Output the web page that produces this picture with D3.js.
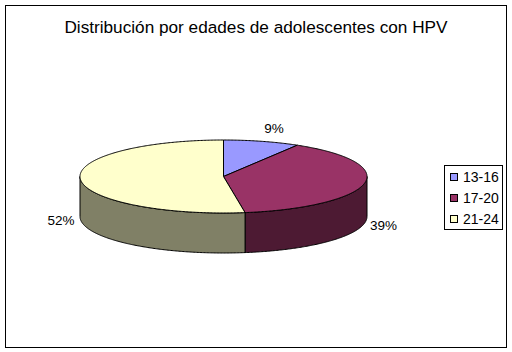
<!DOCTYPE html>
<html>
<head>
<meta charset="utf-8">
<script src="https://cdn.jsdelivr.net/npm/d3@7"></script>
<style>
    html, body { margin: 0; padding: 0; background: #fff; }
    svg { display: block; }
    text { font-family: "Liberation Sans", Arial, sans-serif; fill: #000; }
</style>
</head>
<body>
<svg id="chart" width="512" height="352"></svg>
<script>
const title = "Distribución por edades de adolescentes con HPV";
const categories = ["13-16", "17-20", "21-24"];
const values = [8.6, 39, 52.4];
const topColors = ["#9999ff", "#993366", "#ffffcc"];
const sideColors = ["#4d4d80", "#4d1a33", "#808066"];

const svg = d3.select("#chart");
const width = 512, height = 352;

// pie geometry
const cx = 223.5, cy = 176.5, rx = 143.5, ry = 36.5, depth = 40;
const total = d3.sum(values);

// frame
svg.append("rect")
    .attr("x", 5.5).attr("y", 5.5)
    .attr("width", 501).attr("height", 342)
    .attr("fill", "#fff").attr("stroke", "#000");

svg.append("text")
    .attr("x", 256).attr("y", 33)
    .attr("text-anchor", "middle")
    .attr("font-size", 17.2)
    .style("-webkit-text-stroke", "0.4px #000")
    .text(title);

// unit circle to screen
const scaleX = d3.scaleLinear().domain([-1, 1]).range([cx - rx, cx + rx]);
const scaleY = d3.scaleLinear().domain([-1, 1]).range([cy - ry, cy + ry]);

const pie = d3.pie().sort(null);
const arcs = pie(values);

const pointX = a => scaleX(Math.sin(a));
const pointY = a => scaleY(-Math.cos(a));
const line = d3.line();

function sampleAngles(a0, a1) {
    const n = Math.max(2, Math.ceil((a1 - a0) / 0.01));
    return d3.range(n + 1).map(i => a0 + (a1 - a0) * i / n);
}

// the rim: only the front half of the pie shows a side
const front = [Math.PI / 2, Math.PI * 1.5];
svg.append("g").selectAll("path")
    .data(arcs.filter(d => d.endAngle > front[0] && d.startAngle < front[1]))
    .join("path")
    .attr("d", d => {
        const as = sampleAngles(Math.max(d.startAngle, front[0]), Math.min(d.endAngle, front[1]));
        const upper = as.map(a => [pointX(a), pointY(a)]);
        const lower = as.slice().reverse().map(a => [pointX(a), pointY(a) + depth]);
        return line(upper.concat(lower)) + "Z";
    })
    .attr("fill", d => sideColors[d.index])
    .attr("stroke", "#000")
    .attr("stroke-linejoin", "round");

// top faces
svg.append("g").selectAll("path")
    .data(arcs)
    .join("path")
    .attr("d", d => {
        const pts = sampleAngles(d.startAngle, d.endAngle).map(a => [pointX(a), pointY(a)]);
        return line([[cx, cy]].concat(pts)) + "Z";
    })
    .attr("fill", d => topColors[d.index])
    .attr("stroke", "#000")
    .attr("stroke-linejoin", "round");

// data labels
const labelPos = [[274, 133], [383.5, 230], [61, 224.5]];
svg.append("g").selectAll("text")
    .data(values)
    .join("text")
    .attr("x", (d, i) => labelPos[i][0])
    .attr("y", (d, i) => labelPos[i][1])
    .attr("text-anchor", "middle")
    .attr("font-size", 13.5)
    .text(d => `${Math.round(d / total * 100)}%`);

// legend
svg.append("rect")
    .attr("x", 444.5).attr("y", 165.5)
    .attr("width", 58).attr("height", 64)
    .attr("fill", "#fff").attr("stroke", "#000");

const legendY = d3.scalePoint().domain(categories).range([177, 219]);
const legend = svg.append("g").selectAll("g")
    .data(categories)
    .join("g")
    .attr("transform", d => `translate(450,${legendY(d)})`);
legend.append("rect")
    .attr("x", 0.5).attr("y", -3.5)
    .attr("width", 7).attr("height", 7)
    .attr("fill", (d, i) => topColors[i])
    .attr("stroke", "#000");
legend.append("text")
    .attr("x", 13).attr("y", 5)
    .attr("font-size", 14)
    .text(d => d);
</script>
</body>
</html>
